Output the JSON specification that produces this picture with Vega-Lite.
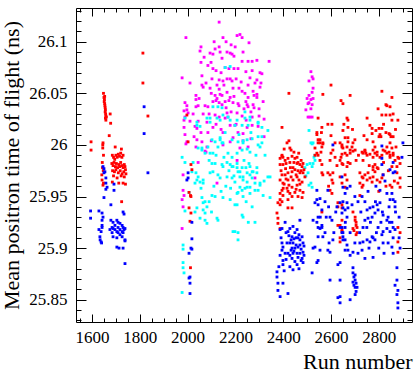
{
"$schema":"https://vega.github.io/schema/vega-lite/v6.json",
"width":336,"height":314,"autosize":"none",
"padding":{"left":76,"top":8,"right":4,"bottom":50},
"background":"white",
"config":{"view":{"stroke":"#000","strokeWidth":1},"axis":{"labelFont":"Liberation Serif","labelFontSize":17,"labelColor":"#000","titleFont":"Liberation Serif","titleFontSize":22,"titleFontWeight":"normal","titleColor":"#000","tickColor":"#000","tickWidth":1,"domain":false,"grid":false}},
"datasets":{
"M":[{"run":2132,"tof":26.119},{"run":1993,"tof":26.104},{"run":2148,"tof":26.104},{"run":2207,"tof":26.106},{"run":2219,"tof":26.107},{"run":2228,"tof":26.104},{"run":2257,"tof":26.099},{"run":2056,"tof":26.095},{"run":2052,"tof":26.091},{"run":2132,"tof":26.095},{"run":2115,"tof":26.093},{"run":2136,"tof":26.09},{"run":2094,"tof":26.089},{"run":2106,"tof":26.088},{"run":2178,"tof":26.089},{"run":2186,"tof":26.088},{"run":2194,"tof":26.086},{"run":2056,"tof":26.08},{"run":2144,"tof":26.084},{"run":2228,"tof":26.081},{"run":2253,"tof":26.081},{"run":2270,"tof":26.081},{"run":2290,"tof":26.082},{"run":2341,"tof":26.081},{"run":2085,"tof":26.077},{"run":2106,"tof":26.074},{"run":2157,"tof":26.075},{"run":2173,"tof":26.074},{"run":2194,"tof":26.074},{"run":2211,"tof":26.074},{"run":2119,"tof":26.072},{"run":2244,"tof":26.071},{"run":2270,"tof":26.072},{"run":2303,"tof":26.07},{"run":2311,"tof":26.069},{"run":1977,"tof":26.065},{"run":2060,"tof":26.067},{"run":2165,"tof":26.064},{"run":2178,"tof":26.064},{"run":2102,"tof":26.064},{"run":2132,"tof":26.063},{"run":2148,"tof":26.062},{"run":2224,"tof":26.061},{"run":2290,"tof":26.063},{"run":2253,"tof":26.058},{"run":2307,"tof":26.06},{"run":2060,"tof":26.058},{"run":2065,"tof":26.056},{"run":2303,"tof":26.056},{"run":2094,"tof":26.055},{"run":2132,"tof":26.054},{"run":2165,"tof":26.051},{"run":2190,"tof":26.055},{"run":2228,"tof":26.052},{"run":2274,"tof":26.052},{"run":2035,"tof":26.048},{"run":2035,"tof":26.044},{"run":2115,"tof":26.048},{"run":2136,"tof":26.049},{"run":2144,"tof":26.048},{"run":2194,"tof":26.047},{"run":2178,"tof":26.046},{"run":2253,"tof":26.046},{"run":2290,"tof":26.049},{"run":2290,"tof":26.046},{"run":1989,"tof":26.041},{"run":1997,"tof":26.038},{"run":1997,"tof":26.034},{"run":2035,"tof":26.037},{"run":2044,"tof":26.038},{"run":2073,"tof":26.038},{"run":2085,"tof":26.037},{"run":2106,"tof":26.042},{"run":2119,"tof":26.043},{"run":2132,"tof":26.041},{"run":2144,"tof":26.039},{"run":2157,"tof":26.042},{"run":2173,"tof":26.043},{"run":2190,"tof":26.041},{"run":2211,"tof":26.04},{"run":2215,"tof":26.038},{"run":2249,"tof":26.039},{"run":2253,"tof":26.037},{"run":2274,"tof":26.039},{"run":2278,"tof":26.036},{"run":2316,"tof":26.042},{"run":2299,"tof":26.035},{"run":1985,"tof":26.033},{"run":2002,"tof":26.031},{"run":2065,"tof":26.03},{"run":2115,"tof":26.029},{"run":2132,"tof":26.027},{"run":2165,"tof":26.031},{"run":2169,"tof":26.027},{"run":2207,"tof":26.031},{"run":2228,"tof":26.028},{"run":2270,"tof":26.027},{"run":2320,"tof":26.025},{"run":2010,"tof":26.023},{"run":2044,"tof":26.023},{"run":2081,"tof":26.022},{"run":2106,"tof":26.017},{"run":2178,"tof":26.019},{"run":2198,"tof":26.019},{"run":2249,"tof":26.017},{"run":2270,"tof":26.019},{"run":1985,"tof":26.017},{"run":2031,"tof":26.018},{"run":2039,"tof":26.016},{"run":2056,"tof":26.012},{"run":2085,"tof":26.012},{"run":2148,"tof":26.012},{"run":2211,"tof":26.012},{"run":2232,"tof":26.011},{"run":1989,"tof":26.01},{"run":1993,"tof":26.001},{"run":2039,"tof":26.005},{"run":2035,"tof":25.998},{"run":2073,"tof":25.994},{"run":2081,"tof":25.998},{"run":2178,"tof":26.003},{"run":2190,"tof":26.007},{"run":2219,"tof":25.997},{"run":2253,"tof":25.998},{"run":1997,"tof":26.003},{"run":2077,"tof":25.993},{"run":1985,"tof":26.024},{"run":2123,"tof":25.963},{"run":2148,"tof":26.0},{"run":2282,"tof":25.968},{"run":2044,"tof":25.983},{"run":2207,"tof":25.985},{"run":1981,"tof":25.971},{"run":1981,"tof":25.956},{"run":1985,"tof":25.951},{"run":1977,"tof":25.947},{"run":1981,"tof":25.94},{"run":1977,"tof":25.919},{"run":1989,"tof":26.027},{"run":2161,"tof":26.1},{"run":2182,"tof":26.097},{"run":2098,"tof":26.08},{"run":2203,"tof":26.064},{"run":2123,"tof":26.058},{"run":2240,"tof":26.05},{"run":2265,"tof":26.032},{"run":2090,"tof":26.03},{"run":2157,"tof":26.026},{"run":2182,"tof":26.032},{"run":2245,"tof":26.024},{"run":2099,"tof":26.004},{"run":2265,"tof":26.006},{"run":2232,"tof":26.004},{"run":2140,"tof":26.015},{"run":2060,"tof":26.003},{"run":2295,"tof":26.018},{"run":2320,"tof":26.008},{"run":2010,"tof":26.06},{"run":2069,"tof":26.085},{"run":2111,"tof":26.1},{"run":2140,"tof":26.07},{"run":2165,"tof":26.09},{"run":2199,"tof":26.095},{"run":2232,"tof":26.09},{"run":2261,"tof":26.065},{"run":2282,"tof":26.06},{"run":2099,"tof":26.05},{"run":2123,"tof":26.045},{"run":2152,"tof":26.058},{"run":2186,"tof":26.062},{"run":2215,"tof":26.055},{"run":2244,"tof":26.042},{"run":2278,"tof":26.048},{"run":2023,"tof":26.03},{"run":2048,"tof":26.045},{"run":2077,"tof":26.06},{"run":2203,"tof":26.02},{"run":2236,"tof":26.035},{"run":2161,"tof":26.036},{"run":2119,"tof":26.02},{"run":2299,"tof":26.028},{"run":2027,"tof":26.008},{"run":2516,"tof":26.071},{"run":2521,"tof":26.066},{"run":2525,"tof":26.064},{"run":2508,"tof":26.062},{"run":2525,"tof":26.055},{"run":2521,"tof":26.051},{"run":2508,"tof":26.048},{"run":2516,"tof":26.044},{"run":2525,"tof":26.045},{"run":2500,"tof":26.045},{"run":2508,"tof":26.041},{"run":2504,"tof":26.04},{"run":2495,"tof":26.034},{"run":2516,"tof":26.035},{"run":2521,"tof":26.039},{"run":2504,"tof":26.027},{"run":2512,"tof":26.027},{"run":2521,"tof":26.027}],
"C":[{"run":2081,"tof":26.026},{"run":2123,"tof":26.026},{"run":2136,"tof":26.024},{"run":2169,"tof":26.027},{"run":2178,"tof":26.024},{"run":2207,"tof":26.024},{"run":2240,"tof":26.026},{"run":2261,"tof":26.027},{"run":2295,"tof":26.022},{"run":2311,"tof":26.017},{"run":2336,"tof":26.014},{"run":2039,"tof":26.022},{"run":2052,"tof":26.018},{"run":2094,"tof":26.022},{"run":2198,"tof":26.019},{"run":2228,"tof":26.019},{"run":2253,"tof":26.019},{"run":2102,"tof":26.005},{"run":2115,"tof":26.003},{"run":2136,"tof":26.005},{"run":2144,"tof":26.002},{"run":2127,"tof":25.998},{"run":2186,"tof":26.005},{"run":2211,"tof":26.003},{"run":2232,"tof":26.004},{"run":2249,"tof":26.005},{"run":2270,"tof":26.006},{"run":2295,"tof":26.008},{"run":2311,"tof":26.002},{"run":2303,"tof":25.998},{"run":2044,"tof":25.997},{"run":2060,"tof":25.995},{"run":2073,"tof":25.992},{"run":2094,"tof":25.992},{"run":2106,"tof":25.992},{"run":2169,"tof":25.992},{"run":2186,"tof":25.988},{"run":2207,"tof":25.992},{"run":2228,"tof":25.995},{"run":2249,"tof":25.996},{"run":2261,"tof":25.993},{"run":2102,"tof":25.982},{"run":2115,"tof":25.982},{"run":2144,"tof":25.981},{"run":2148,"tof":25.979},{"run":2165,"tof":25.983},{"run":2186,"tof":25.979},{"run":2207,"tof":25.978},{"run":2211,"tof":25.974},{"run":2228,"tof":25.978},{"run":2244,"tof":25.978},{"run":2261,"tof":25.979},{"run":2270,"tof":25.974},{"run":2290,"tof":25.978},{"run":2018,"tof":25.974},{"run":2035,"tof":25.973},{"run":2044,"tof":25.969},{"run":2065,"tof":25.966},{"run":2052,"tof":25.964},{"run":2065,"tof":25.963},{"run":2094,"tof":25.973},{"run":2106,"tof":25.974},{"run":2127,"tof":25.971},{"run":2136,"tof":25.968},{"run":2165,"tof":25.969},{"run":2186,"tof":25.968},{"run":2198,"tof":25.964},{"run":2219,"tof":25.969},{"run":2232,"tof":25.966},{"run":2249,"tof":25.964},{"run":2270,"tof":25.968},{"run":2282,"tof":25.963},{"run":2303,"tof":25.961},{"run":2295,"tof":25.956},{"run":2282,"tof":25.956},{"run":2261,"tof":25.959},{"run":2240,"tof":25.958},{"run":2228,"tof":25.956},{"run":2211,"tof":25.954},{"run":2336,"tof":25.969},{"run":2316,"tof":25.951},{"run":2345,"tof":25.949},{"run":2039,"tof":25.966},{"run":2031,"tof":25.963},{"run":2060,"tof":25.949},{"run":2065,"tof":25.944},{"run":2073,"tof":25.945},{"run":2081,"tof":25.94},{"run":2065,"tof":25.937},{"run":2073,"tof":25.934},{"run":2039,"tof":25.939},{"run":2031,"tof":25.935},{"run":2052,"tof":25.929},{"run":2081,"tof":25.924},{"run":2073,"tof":25.927},{"run":2123,"tof":25.929},{"run":2127,"tof":25.927},{"run":2148,"tof":25.949},{"run":2178,"tof":25.947},{"run":2207,"tof":25.942},{"run":2228,"tof":25.932},{"run":2232,"tof":25.93},{"run":2198,"tof":25.916},{"run":2211,"tof":25.915},{"run":2211,"tof":25.908},{"run":2282,"tof":25.925},{"run":2102,"tof":25.951},{"run":2115,"tof":25.95},{"run":2178,"tof":25.981},{"run":2190,"tof":25.979},{"run":2207,"tof":25.982},{"run":2219,"tof":25.974},{"run":2232,"tof":25.969},{"run":2249,"tof":25.973},{"run":2261,"tof":25.971},{"run":2274,"tof":25.974},{"run":2290,"tof":25.973},{"run":2303,"tof":25.963},{"run":2295,"tof":26.0},{"run":2232,"tof":26.002},{"run":2249,"tof":25.959},{"run":2219,"tof":25.959},{"run":2207,"tof":25.953},{"run":2232,"tof":25.95},{"run":2261,"tof":25.953},{"run":2198,"tof":25.942},{"run":2190,"tof":25.916},{"run":2345,"tof":25.969},{"run":1977,"tof":25.988},{"run":1989,"tof":25.983},{"run":2006,"tof":25.954},{"run":1989,"tof":25.936},{"run":1981,"tof":25.903},{"run":1981,"tof":25.899},{"run":1981,"tof":25.886},{"run":1981,"tof":25.881},{"run":1985,"tof":25.876},{"run":1977,"tof":25.857},{"run":2106,"tof":26.037},{"run":2127,"tof":26.037},{"run":2144,"tof":26.036},{"run":2148,"tof":26.029},{"run":2094,"tof":26.026},{"run":2240,"tof":26.032},{"run":2261,"tof":26.024},{"run":2295,"tof":26.021},{"run":2311,"tof":26.008},{"run":2136,"tof":26.007},{"run":2148,"tof":26.002},{"run":2085,"tof":25.998},{"run":2060,"tof":25.997},{"run":2039,"tof":26.019},{"run":1989,"tof":26.026},{"run":2157,"tof":26.075},{"run":2178,"tof":26.076},{"run":2090,"tof":25.985},{"run":2119,"tof":25.99},{"run":2152,"tof":25.988},{"run":2173,"tof":25.975},{"run":2194,"tof":25.97},{"run":2236,"tof":25.985},{"run":2257,"tof":25.982},{"run":2286,"tof":25.99},{"run":2110,"tof":25.96},{"run":2140,"tof":25.955},{"run":2160,"tof":25.96},{"run":2180,"tof":25.958},{"run":2245,"tof":25.945},{"run":2270,"tof":25.94},{"run":2090,"tof":25.945},{"run":2056,"tof":25.958},{"run":2023,"tof":25.983},{"run":2157,"tof":26.012},{"run":2215,"tof":26.01},{"run":2265,"tof":26.012},{"run":2324,"tof":25.99},{"run":2320,"tof":25.965},{"run":2100,"tof":25.935},{"run":2254,"tof":25.925},{"run":2500,"tof":25.981},{"run":2512,"tof":25.982},{"run":2525,"tof":25.982},{"run":2521,"tof":25.979},{"run":2504,"tof":25.973},{"run":2508,"tof":25.961},{"run":2521,"tof":25.959},{"run":2516,"tof":25.963},{"run":2525,"tof":26.002},{"run":2533,"tof":25.99},{"run":2508,"tof":26.014},{"run":2516,"tof":26.002},{"run":2521,"tof":26.001},{"run":2529,"tof":25.988},{"run":2491,"tof":25.978},{"run":2533,"tof":25.985},{"run":2495,"tof":25.97}],
"R":[{"run":1596,"tof":26.003},{"run":1596,"tof":25.995},{"run":1648,"tof":26.05},{"run":1650,"tof":26.046},{"run":1653,"tof":26.047},{"run":1652,"tof":26.044},{"run":1651,"tof":26.042},{"run":1653,"tof":26.04},{"run":1654,"tof":26.038},{"run":1655,"tof":26.036},{"run":1656,"tof":26.034},{"run":1655,"tof":26.032},{"run":1657,"tof":26.03},{"run":1658,"tof":26.028},{"run":1656,"tof":26.026},{"run":1658,"tof":26.024},{"run":1660,"tof":26.027},{"run":1676,"tof":26.03},{"run":1678,"tof":26.021},{"run":1672,"tof":26.009},{"run":1646,"tof":26.002},{"run":1645,"tof":26.0},{"run":1645,"tof":25.997},{"run":1648,"tof":25.99},{"run":1643,"tof":25.983},{"run":1644,"tof":25.978},{"run":1647,"tof":25.975},{"run":1641,"tof":25.971},{"run":1642,"tof":25.966},{"run":1648,"tof":25.963},{"run":1646,"tof":25.961},{"run":1685,"tof":25.99},{"run":1690,"tof":25.988},{"run":1695,"tof":25.986},{"run":1700,"tof":25.99},{"run":1705,"tof":25.988},{"run":1710,"tof":25.991},{"run":1715,"tof":25.989},{"run":1720,"tof":25.992},{"run":1725,"tof":25.988},{"run":1730,"tof":25.99},{"run":1697,"tof":25.998},{"run":1723,"tof":25.996},{"run":1683,"tof":25.982},{"run":1688,"tof":25.98},{"run":1692,"tof":25.983},{"run":1698,"tof":25.979},{"run":1702,"tof":25.982},{"run":1707,"tof":25.978},{"run":1712,"tof":25.981},{"run":1716,"tof":25.979},{"run":1720,"tof":25.983},{"run":1725,"tof":25.98},{"run":1730,"tof":25.978},{"run":1735,"tof":25.981},{"run":1738,"tof":25.979},{"run":1686,"tof":25.975},{"run":1694,"tof":25.974},{"run":1700,"tof":25.976},{"run":1710,"tof":25.973},{"run":1718,"tof":25.975},{"run":1726,"tof":25.972},{"run":1733,"tof":25.974},{"run":1740,"tof":25.976},{"run":1690,"tof":25.97},{"run":1705,"tof":25.968},{"run":1722,"tof":25.97},{"run":1735,"tof":25.969},{"run":1742,"tof":25.972},{"run":1712,"tof":25.963},{"run":1730,"tof":25.963},{"run":1740,"tof":25.962},{"run":1685,"tof":25.964},{"run":1724,"tof":25.945},{"run":1813,"tof":26.089},{"run":1813,"tof":26.06},{"run":1834,"tof":26.028},{"run":1997,"tof":26.029},{"run":2002,"tof":26.003},{"run":2014,"tof":25.981},{"run":2018,"tof":25.976},{"run":2006,"tof":25.954},{"run":2012,"tof":25.951},{"run":2014,"tof":25.95},{"run":2010,"tof":25.926},{"run":2006,"tof":25.939},{"run":2014,"tof":25.934},{"run":2012,"tof":25.881},{"run":2424,"tof":26.05},{"run":2395,"tof":26.017},{"run":2424,"tof":26.004},{"run":2395,"tof":25.989},{"run":2437,"tof":25.989},{"run":2458,"tof":25.988},{"run":2433,"tof":25.995},{"run":2395,"tof":25.99},{"run":2387,"tof":25.987},{"run":2399,"tof":25.988},{"run":2408,"tof":25.985},{"run":2387,"tof":25.981},{"run":2399,"tof":25.981},{"run":2420,"tof":25.987},{"run":2428,"tof":25.983},{"run":2449,"tof":25.987},{"run":2458,"tof":25.982},{"run":2462,"tof":25.983},{"run":2470,"tof":25.981},{"run":2479,"tof":25.979},{"run":2483,"tof":25.982},{"run":2441,"tof":25.978},{"run":2437,"tof":25.974},{"run":2420,"tof":25.973},{"run":2408,"tof":25.971},{"run":2395,"tof":25.971},{"run":2387,"tof":25.966},{"run":2399,"tof":25.963},{"run":2420,"tof":25.966},{"run":2441,"tof":25.966},{"run":2458,"tof":25.969},{"run":2470,"tof":25.973},{"run":2483,"tof":25.973},{"run":2491,"tof":25.969},{"run":2479,"tof":25.964},{"run":2458,"tof":25.961},{"run":2437,"tof":25.959},{"run":2416,"tof":25.958},{"run":2395,"tof":25.956},{"run":2387,"tof":25.953},{"run":2399,"tof":25.951},{"run":2428,"tof":25.953},{"run":2449,"tof":25.954},{"run":2470,"tof":25.956},{"run":2483,"tof":25.954},{"run":2462,"tof":25.95},{"run":2479,"tof":25.949},{"run":2387,"tof":25.947},{"run":2395,"tof":25.945},{"run":2420,"tof":25.947},{"run":2374,"tof":25.934},{"run":2378,"tof":25.929},{"run":2378,"tof":25.924},{"run":2387,"tof":25.919},{"run":2420,"tof":25.939},{"run":2437,"tof":25.939},{"run":2378,"tof":25.944},{"run":2387,"tof":25.942},{"run":2416,"tof":26.002},{"run":2428,"tof":25.997},{"run":2445,"tof":25.993},{"run":2404,"tof":25.996},{"run":2465,"tof":25.992},{"run":2462,"tof":25.975},{"run":2449,"tof":25.976},{"run":2475,"tof":25.985},{"run":2430,"tof":25.978},{"run":2412,"tof":25.967},{"run":2404,"tof":25.962},{"run":2470,"tof":25.962},{"run":2454,"tof":25.957},{"run":2420,"tof":25.955},{"run":2391,"tof":25.975},{"run":2412,"tof":25.982},{"run":2424,"tof":25.961},{"run":2433,"tof":25.969},{"run":2445,"tof":25.983},{"run":2454,"tof":25.971},{"run":2466,"tof":25.966},{"run":2487,"tof":25.976},{"run":2400,"tof":25.958},{"run":2437,"tof":25.95},{"run":2410,"tof":25.977},{"run":2475,"tof":25.975},{"run":2546,"tof":26.026},{"run":2562,"tof":26.017},{"run":2541,"tof":26.012},{"run":2541,"tof":26.01},{"run":2546,"tof":26.005},{"run":2554,"tof":26.002},{"run":2566,"tof":26.001},{"run":2562,"tof":25.998},{"run":2533,"tof":25.997},{"run":2541,"tof":25.992},{"run":2558,"tof":25.993},{"run":2533,"tof":25.99},{"run":2566,"tof":26.049},{"run":2600,"tof":26.058},{"run":2587,"tof":26.02},{"run":2604,"tof":26.02},{"run":2600,"tof":26.009},{"run":2638,"tof":26.002},{"run":2646,"tof":25.998},{"run":2650,"tof":25.997},{"run":2642,"tof":26.043},{"run":2650,"tof":26.04},{"run":2680,"tof":26.048},{"run":2667,"tof":26.026},{"run":2671,"tof":26.024},{"run":2671,"tof":26.017},{"run":2654,"tof":26.02},{"run":2650,"tof":26.014},{"run":2659,"tof":26.007},{"run":2671,"tof":26.007},{"run":2688,"tof":25.998},{"run":2692,"tof":25.994},{"run":2646,"tof":25.991},{"run":2659,"tof":25.992},{"run":2667,"tof":25.99},{"run":2680,"tof":25.992},{"run":2751,"tof":26.026},{"run":2763,"tof":26.019},{"run":2772,"tof":26.016},{"run":2772,"tof":26.011},{"run":2738,"tof":26.009},{"run":2751,"tof":26.005},{"run":2730,"tof":25.993},{"run":2742,"tof":25.994},{"run":2746,"tof":25.992},{"run":2797,"tof":26.035},{"run":2813,"tof":26.052},{"run":2830,"tof":26.039},{"run":2834,"tof":26.038},{"run":2847,"tof":26.037},{"run":2855,"tof":26.046},{"run":2813,"tof":26.029},{"run":2830,"tof":26.029},{"run":2847,"tof":26.029},{"run":2855,"tof":26.024},{"run":2880,"tof":26.024},{"run":2801,"tof":26.016},{"run":2813,"tof":26.016},{"run":2788,"tof":26.014},{"run":2830,"tof":26.012},{"run":2843,"tof":26.011},{"run":2847,"tof":26.01},{"run":2851,"tof":26.008},{"run":2860,"tof":26.008},{"run":2805,"tof":26.01},{"run":2801,"tof":26.008},{"run":2809,"tof":26.008},{"run":2826,"tof":25.994},{"run":2834,"tof":25.992},{"run":2843,"tof":25.993},{"run":2847,"tof":25.99},{"run":2860,"tof":25.992},{"run":2872,"tof":25.998},{"run":2784,"tof":25.992},{"run":2793,"tof":25.99},{"run":2805,"tof":25.988},{"run":2763,"tof":25.991},{"run":2776,"tof":25.988},{"run":2884,"tof":25.987},{"run":2546,"tof":25.99},{"run":2554,"tof":25.985},{"run":2562,"tof":25.981},{"run":2596,"tof":25.985},{"run":2587,"tof":25.973},{"run":2596,"tof":25.971},{"run":2608,"tof":25.973},{"run":2604,"tof":25.966},{"run":2596,"tof":25.956},{"run":2604,"tof":25.953},{"run":2629,"tof":25.94},{"run":2646,"tof":25.939},{"run":2638,"tof":25.969},{"run":2659,"tof":25.971},{"run":2667,"tof":25.966},{"run":2646,"tof":25.963},{"run":2659,"tof":25.959},{"run":2638,"tof":25.922},{"run":2646,"tof":25.918},{"run":2638,"tof":25.91},{"run":2701,"tof":25.927},{"run":2705,"tof":25.922},{"run":2692,"tof":25.919},{"run":2709,"tof":25.915},{"run":2692,"tof":25.935},{"run":2701,"tof":25.93},{"run":2705,"tof":25.925},{"run":2709,"tof":25.92},{"run":2696,"tof":25.917},{"run":2705,"tof":25.913},{"run":2646,"tof":26.0},{"run":2667,"tof":25.998},{"run":2671,"tof":26.003},{"run":2680,"tof":25.995},{"run":2692,"tof":26.002},{"run":2701,"tof":25.995},{"run":2642,"tof":25.988},{"run":2671,"tof":25.983},{"run":2680,"tof":25.982},{"run":2650,"tof":25.981},{"run":2667,"tof":25.979},{"run":2734,"tof":25.992},{"run":2742,"tof":25.995},{"run":2751,"tof":25.99},{"run":2734,"tof":25.985},{"run":2721,"tof":25.973},{"run":2730,"tof":25.969},{"run":2734,"tof":25.968},{"run":2742,"tof":25.971},{"run":2751,"tof":25.966},{"run":2755,"tof":25.973},{"run":2763,"tof":25.968},{"run":2772,"tof":25.964},{"run":2776,"tof":25.969},{"run":2784,"tof":25.974},{"run":2793,"tof":25.966},{"run":2805,"tof":25.964},{"run":2813,"tof":25.968},{"run":2818,"tof":25.971},{"run":2776,"tof":25.976},{"run":2797,"tof":25.977},{"run":2721,"tof":25.963},{"run":2730,"tof":25.959},{"run":2734,"tof":25.961},{"run":2721,"tof":25.951},{"run":2776,"tof":25.979},{"run":2784,"tof":25.981},{"run":2793,"tof":25.978},{"run":2776,"tof":26.003},{"run":2784,"tof":25.998},{"run":2776,"tof":25.995},{"run":2793,"tof":25.993},{"run":2813,"tof":25.99},{"run":2818,"tof":25.995},{"run":2834,"tof":25.998},{"run":2847,"tof":26.002},{"run":2855,"tof":25.997},{"run":2860,"tof":25.99},{"run":2847,"tof":25.988},{"run":2868,"tof":25.985},{"run":2880,"tof":25.988},{"run":2889,"tof":25.982},{"run":2876,"tof":25.979},{"run":2855,"tof":25.979},{"run":2876,"tof":25.973},{"run":2889,"tof":25.968},{"run":2880,"tof":25.963},{"run":2889,"tof":25.959},{"run":2847,"tof":25.961},{"run":2855,"tof":25.959},{"run":2880,"tof":25.92},{"run":2889,"tof":25.915},{"run":2880,"tof":25.906},{"run":2880,"tof":25.896},{"run":2646,"tof":25.927},{"run":2617,"tof":25.988},{"run":2625,"tof":25.98},{"run":2608,"tof":25.995},{"run":2562,"tof":25.973},{"run":2566,"tof":25.971},{"run":2608,"tof":25.963},{"run":2629,"tof":25.944},{"run":2646,"tof":25.942},{"run":2638,"tof":25.985},{"run":2646,"tof":25.982},{"run":2629,"tof":25.922},{"run":2646,"tof":25.916},{"run":2638,"tof":25.906},{"run":2554,"tof":26.005},{"run":2566,"tof":26.002},{"run":2546,"tof":26.002},{"run":2617,"tof":26.002},{"run":2562,"tof":25.935},{"run":2600,"tof":25.992},{"run":2590,"tof":25.96},{"run":2705,"tof":25.985},{"run":2715,"tof":25.99},{"run":2760,"tof":25.98},{"run":2820,"tof":25.983},{"run":2840,"tof":25.975},{"run":2865,"tof":25.965},{"run":2830,"tof":25.96},{"run":2800,"tof":25.955},{"run":2870,"tof":26.015},{"run":2860,"tof":26.03},{"run":2820,"tof":26.02},{"run":2690,"tof":26.015},{"run":2700,"tof":26.005},{"run":2560,"tof":26.012}],
"B":[{"run":1594,"tof":25.936},{"run":1594,"tof":25.929},{"run":1646,"tof":25.979},{"run":1650,"tof":25.977},{"run":1654,"tof":25.974},{"run":1650,"tof":25.973},{"run":1658,"tof":25.968},{"run":1663,"tof":25.959},{"run":1658,"tof":25.957},{"run":1658,"tof":25.963},{"run":1692,"tof":25.962},{"run":1692,"tof":25.956},{"run":1650,"tof":25.949},{"run":1679,"tof":25.942},{"run":1629,"tof":25.936},{"run":1642,"tof":25.934},{"run":1646,"tof":25.93},{"run":1642,"tof":25.927},{"run":1642,"tof":25.922},{"run":1629,"tof":25.918},{"run":1638,"tof":25.916},{"run":1633,"tof":25.911},{"run":1638,"tof":25.906},{"run":1642,"tof":25.92},{"run":1640,"tof":25.905},{"run":1634,"tof":25.908},{"run":1679,"tof":25.927},{"run":1688,"tof":25.925},{"run":1704,"tof":25.927},{"run":1709,"tof":25.925},{"run":1717,"tof":25.924},{"run":1726,"tof":25.922},{"run":1730,"tof":25.92},{"run":1738,"tof":25.919},{"run":1684,"tof":25.92},{"run":1688,"tof":25.919},{"run":1696,"tof":25.918},{"run":1704,"tof":25.916},{"run":1709,"tof":25.915},{"run":1717,"tof":25.913},{"run":1726,"tof":25.916},{"run":1730,"tof":25.915},{"run":1684,"tof":25.915},{"run":1688,"tof":25.911},{"run":1704,"tof":25.91},{"run":1675,"tof":25.918},{"run":1717,"tof":25.918},{"run":1734,"tof":25.918},{"run":1696,"tof":25.922},{"run":1709,"tof":25.92},{"run":1726,"tof":25.911},{"run":1738,"tof":25.908},{"run":1730,"tof":25.935},{"run":1734,"tof":25.933},{"run":1704,"tof":25.901},{"run":1713,"tof":25.9},{"run":1730,"tof":25.9},{"run":1738,"tof":25.907},{"run":1738,"tof":25.885},{"run":1818,"tof":26.037},{"run":1818,"tof":26.011},{"run":1834,"tof":25.973},{"run":2002,"tof":25.973},{"run":2002,"tof":25.968},{"run":1997,"tof":25.966},{"run":2018,"tof":25.925},{"run":2018,"tof":25.909},{"run":2014,"tof":25.9},{"run":2018,"tof":25.899},{"run":2006,"tof":25.895},{"run":2010,"tof":25.872},{"run":2006,"tof":25.871},{"run":2010,"tof":25.866},{"run":2010,"tof":25.856},{"run":2395,"tof":25.919},{"run":2387,"tof":25.918},{"run":2420,"tof":25.916},{"run":2428,"tof":25.919},{"run":2437,"tof":25.911},{"run":2433,"tof":25.908},{"run":2441,"tof":25.905},{"run":2449,"tof":25.915},{"run":2458,"tof":25.918},{"run":2462,"tof":25.91},{"run":2470,"tof":25.908},{"run":2479,"tof":25.911},{"run":2483,"tof":25.905},{"run":2462,"tof":25.901},{"run":2449,"tof":25.9},{"run":2441,"tof":25.895},{"run":2470,"tof":25.895},{"run":2483,"tof":25.896},{"run":2479,"tof":25.89},{"run":2483,"tof":25.886},{"run":2462,"tof":25.891},{"run":2437,"tof":25.89},{"run":2428,"tof":25.893},{"run":2399,"tof":25.901},{"run":2395,"tof":25.898},{"run":2387,"tof":25.893},{"run":2399,"tof":25.888},{"run":2399,"tof":25.884},{"run":2382,"tof":25.882},{"run":2374,"tof":25.877},{"run":2374,"tof":25.872},{"run":2378,"tof":25.866},{"run":2378,"tof":25.859},{"run":2387,"tof":25.853},{"run":2399,"tof":25.866},{"run":2420,"tof":25.856},{"run":2441,"tof":25.879},{"run":2470,"tof":25.927},{"run":2424,"tof":25.912},{"run":2445,"tof":25.909},{"run":2454,"tof":25.903},{"run":2466,"tof":25.913},{"run":2475,"tof":25.899},{"run":2487,"tof":25.902},{"run":2433,"tof":25.898},{"run":2416,"tof":25.905},{"run":2408,"tof":25.895},{"run":2449,"tof":25.887},{"run":2458,"tof":25.884},{"run":2475,"tof":25.888},{"run":2441,"tof":25.921},{"run":2408,"tof":25.925},{"run":2391,"tof":25.91},{"run":2404,"tof":25.878},{"run":2412,"tof":25.889},{"run":2466,"tof":25.88},{"run":2428,"tof":25.882},{"run":2395,"tof":25.905},{"run":2412,"tof":25.915},{"run":2428,"tof":25.905},{"run":2445,"tof":25.897},{"run":2458,"tof":25.895},{"run":2470,"tof":25.903},{"run":2487,"tof":25.893},{"run":2420,"tof":25.895},{"run":2454,"tof":25.91},{"run":2437,"tof":25.9},{"run":2541,"tof":25.956},{"run":2533,"tof":25.944},{"run":2546,"tof":25.93},{"run":2562,"tof":25.92},{"run":2546,"tof":25.911},{"run":2533,"tof":25.901},{"run":2554,"tof":25.898},{"run":2541,"tof":25.886},{"run":2521,"tof":25.876},{"run":2541,"tof":25.947},{"run":2546,"tof":25.942},{"run":2562,"tof":25.937},{"run":2525,"tof":25.927},{"run":2541,"tof":25.925},{"run":2546,"tof":25.92},{"run":2554,"tof":25.919},{"run":2562,"tof":25.922},{"run":2596,"tof":25.93},{"run":2604,"tof":25.927},{"run":2566,"tof":25.911},{"run":2546,"tof":25.888},{"run":2525,"tof":25.9},{"run":2587,"tof":25.898},{"run":2596,"tof":25.896},{"run":2608,"tof":25.908},{"run":2596,"tof":25.869},{"run":2638,"tof":25.886},{"run":2629,"tof":25.884},{"run":2629,"tof":25.852},{"run":2638,"tof":25.847},{"run":2638,"tof":25.869},{"run":2608,"tof":26.0},{"run":2587,"tof":25.956},{"run":2554,"tof":25.948},{"run":2638,"tof":25.944},{"run":2625,"tof":25.94},{"run":2650,"tof":25.939},{"run":2646,"tof":25.934},{"run":2667,"tof":25.93},{"run":2638,"tof":25.92},{"run":2650,"tof":25.915},{"run":2659,"tof":25.908},{"run":2671,"tof":25.898},{"run":2638,"tof":25.853},{"run":2680,"tof":25.85},{"run":2692,"tof":25.876},{"run":2696,"tof":25.872},{"run":2701,"tof":25.869},{"run":2705,"tof":25.866},{"run":2701,"tof":25.862},{"run":2696,"tof":25.864},{"run":2705,"tof":25.858},{"run":2701,"tof":25.855},{"run":2692,"tof":25.867},{"run":2692,"tof":25.881},{"run":2701,"tof":25.874},{"run":2709,"tof":25.862},{"run":2646,"tof":25.969},{"run":2650,"tof":25.959},{"run":2667,"tof":25.958},{"run":2659,"tof":25.953},{"run":2650,"tof":25.945},{"run":2667,"tof":25.944},{"run":2671,"tof":25.939},{"run":2659,"tof":25.937},{"run":2688,"tof":25.942},{"run":2742,"tof":25.945},{"run":2751,"tof":25.937},{"run":2763,"tof":25.939},{"run":2776,"tof":25.94},{"run":2793,"tof":25.942},{"run":2805,"tof":25.944},{"run":2797,"tof":25.937},{"run":2784,"tof":25.934},{"run":2772,"tof":25.93},{"run":2755,"tof":25.929},{"run":2742,"tof":25.927},{"run":2734,"tof":25.92},{"run":2805,"tof":25.956},{"run":2834,"tof":25.953},{"run":2847,"tof":25.947},{"run":2855,"tof":25.953},{"run":2868,"tof":25.945},{"run":2818,"tof":25.932},{"run":2834,"tof":25.927},{"run":2839,"tof":25.93},{"run":2855,"tof":25.925},{"run":2860,"tof":25.92},{"run":2868,"tof":25.918},{"run":2847,"tof":25.916},{"run":2834,"tof":25.919},{"run":2818,"tof":25.916},{"run":2813,"tof":25.913},{"run":2772,"tof":25.911},{"run":2776,"tof":25.91},{"run":2784,"tof":25.908},{"run":2763,"tof":25.906},{"run":2751,"tof":25.908},{"run":2734,"tof":25.906},{"run":2721,"tof":25.905},{"run":2730,"tof":25.898},{"run":2713,"tof":25.895},{"run":2692,"tof":25.896},{"run":2680,"tof":25.893},{"run":2659,"tof":25.898},{"run":2667,"tof":25.903},{"run":2650,"tof":25.908},{"run":2646,"tof":25.915},{"run":2646,"tof":25.92},{"run":2659,"tof":25.92},{"run":2650,"tof":25.911},{"run":2776,"tof":25.891},{"run":2855,"tof":25.901},{"run":2860,"tof":25.895},{"run":2818,"tof":25.905},{"run":2876,"tof":25.881},{"run":2880,"tof":25.859},{"run":2876,"tof":25.855},{"run":2880,"tof":25.847},{"run":2880,"tof":25.842},{"run":2876,"tof":25.869},{"run":2868,"tof":25.864},{"run":2813,"tof":25.981},{"run":2818,"tof":25.971},{"run":2847,"tof":25.976},{"run":2860,"tof":25.973},{"run":2868,"tof":25.974},{"run":2860,"tof":25.947},{"run":2868,"tof":25.94},{"run":2901,"tof":26.002},{"run":2897,"tof":25.988},{"run":2860,"tof":25.983},{"run":2813,"tof":25.999},{"run":2813,"tof":25.987},{"run":2730,"tof":25.95},{"run":2755,"tof":25.955},{"run":2788,"tof":25.96},{"run":2826,"tof":25.965},{"run":2843,"tof":25.94},{"run":2885,"tof":25.93},{"run":2889,"tof":25.9},{"run":2885,"tof":25.91},{"run":2742,"tof":25.89},{"run":2759,"tof":25.9},{"run":2797,"tof":25.92},{"run":2822,"tof":25.895},{"run":2809,"tof":25.925},{"run":2786,"tof":25.945},{"run":2839,"tof":25.905},{"run":2725,"tof":25.935},{"run":2713,"tof":25.945},{"run":2700,"tof":25.95},{"run":2680,"tof":25.96},{"run":2620,"tof":25.935},{"run":2612,"tof":25.915},{"run":2580,"tof":25.93},{"run":2575,"tof":25.945},{"run":2592,"tof":25.905},{"run":2750,"tof":25.92},{"run":2765,"tof":25.925},{"run":2790,"tof":25.915},{"run":2800,"tof":25.9},{"run":2815,"tof":25.935},{"run":2845,"tof":25.925},{"run":2860,"tof":25.91},{"run":2870,"tof":25.935},{"run":2720,"tof":25.915},{"run":2700,"tof":25.905},{"run":2680,"tof":25.915},{"run":2660,"tof":25.925},{"run":2575,"tof":25.915},{"run":2555,"tof":25.93},{"run":2590,"tof":25.94}]
},
"layer":[
{"data":{"name":"M"},"mark":{"type":"square","size":8,"opacity":1,"color":"#ff00ff"},
 "encoding":{"x":{"field":"run","type":"quantitative","scale":{"domain":[1533,2939],"nice":false,"zero":false},"axis":{"orient":"bottom","values":[1600,1800,2000,2200,2400,2600,2800],"format":"d","ticks":false,"labelPadding":7,"labelFont":"Liberation Serif","labelFontSize":17,"title":"Run number","titleFont":"Liberation Serif","titleFontSize":22,"titleAnchor":"end","titlePadding":6}},
  "y":{"field":"tof","type":"quantitative","scale":{"domain":[25.8284,26.1327],"nice":false,"zero":false},"axis":{"orient":"left","values":[25.85,25.9,25.95,26,26.05,26.1],"format":"~g","ticks":false,"labelPadding":9,"labelFont":"Liberation Serif","labelFontSize":17,"title":"Mean positron time of flight (ns)","titleFont":"Liberation Serif","titleFontSize":22,"titlePadding":5}}}},
{"data":{"name":"C"},"mark":{"type":"square","size":8,"opacity":1,"color":"#00ffff"},
 "encoding":{"x":{"field":"run","type":"quantitative","scale":{"domain":[1533,2939],"nice":false,"zero":false},"axis":{"orient":"bottom","values":[1600,1800,2000,2200,2400,2600,2800],"labels":false,"title":null,"tickSize":-8}},
  "y":{"field":"tof","type":"quantitative","scale":{"domain":[25.8284,26.1327],"nice":false,"zero":false},"axis":{"orient":"left","values":[25.85,25.9,25.95,26,26.05,26.1],"labels":false,"title":null,"tickSize":-10}}}},
{"data":{"name":"R"},"mark":{"type":"square","size":8,"opacity":1,"color":"#ff0000"},
 "encoding":{"x":{"field":"run","type":"quantitative","scale":{"domain":[1533,2939],"nice":false,"zero":false},"axis":{"orient":"bottom","values":[1550,1650,1700,1750,1850,1900,1950,2050,2100,2150,2250,2300,2350,2450,2500,2550,2650,2700,2750,2850,2900],"labels":false,"title":null,"tickSize":-4}},
  "y":{"field":"tof","type":"quantitative","scale":{"domain":[25.8284,26.1327],"nice":false,"zero":false},"axis":{"orient":"left","values":[25.83,25.84,25.86,25.87,25.88,25.89,25.91,25.92,25.93,25.94,25.96,25.97,25.98,25.99,26.01,26.02,26.03,26.04,26.06,26.07,26.08,26.09,26.11,26.12,26.13],"labels":false,"title":null,"tickSize":-5}}}},
{"data":{"name":"B"},"mark":{"type":"square","size":8,"opacity":1,"color":"#0000ff"},
 "encoding":{"x":{"field":"run","type":"quantitative","scale":{"domain":[1533,2939],"nice":false,"zero":false},"axis":{"orient":"top","values":[1600,1800,2000,2200,2400,2600,2800],"labels":false,"title":null,"tickSize":-8}},
  "y":{"field":"tof","type":"quantitative","scale":{"domain":[25.8284,26.1327],"nice":false,"zero":false},"axis":{"orient":"right","values":[25.85,25.9,25.95,26,26.05,26.1],"labels":false,"title":null,"tickSize":-10}}}},
{"data":{"name":"B"},"transform":[{"filter":"datum.run < 0"}],"mark":{"type":"square","opacity":0},
 "encoding":{"x":{"field":"run","type":"quantitative","scale":{"domain":[1533,2939],"nice":false,"zero":false},"axis":{"orient":"top","values":[1550,1650,1700,1750,1850,1900,1950,2050,2100,2150,2250,2300,2350,2450,2500,2550,2650,2700,2750,2850,2900],"labels":false,"title":null,"tickSize":-4}},
  "y":{"field":"tof","type":"quantitative","scale":{"domain":[25.8284,26.1327],"nice":false,"zero":false},"axis":{"orient":"right","values":[25.83,25.84,25.86,25.87,25.88,25.89,25.91,25.92,25.93,25.94,25.96,25.97,25.98,25.99,26.01,26.02,26.03,26.04,26.06,26.07,26.08,26.09,26.11,26.12,26.13],"labels":false,"title":null,"tickSize":-5}}}}
],
"resolve":{"axis":{"x":"independent","y":"independent"}}
}
